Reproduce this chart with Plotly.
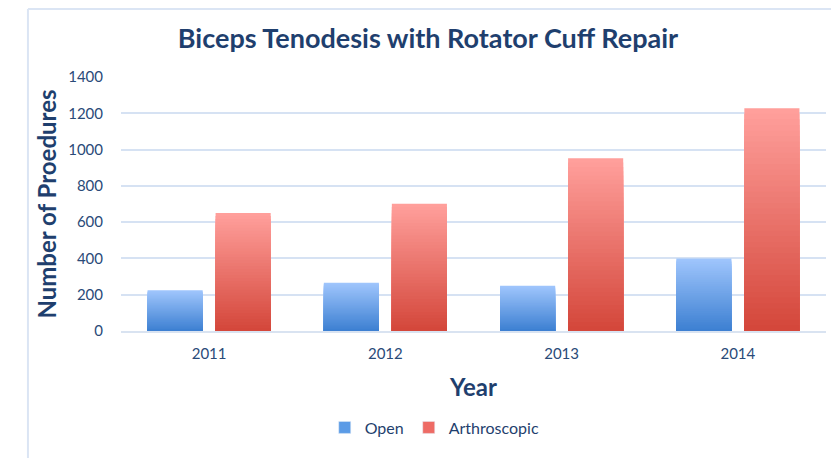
import plotly.graph_objects as go

years = ["2011", "2012", "2013", "2014"]
open_vals = [224, 266, 250, 399]
arth_vals = [650, 701, 952, 1228]
y_ticks = [0, 200, 400, 600, 800, 1000, 1200, 1400]

NAVY = "#1f3f6e"
TICK = "#2a4a78"
N = 40


def lerp(c1, c2, t):
    a = [int(c1[i:i + 2], 16) for i in (1, 3, 5)]
    b = [int(c2[i:i + 2], 16) for i in (1, 3, 5)]
    return "rgb(%d,%d,%d)" % tuple(round(a[j] + (b[j] - a[j]) * t) for j in range(3))


fig = go.Figure()

series = [
    ("Open", open_vals, "#9fc5fc", "#3d80d2", "#5b9be6", "o"),
    ("Arthroscopic", arth_vals, "#ff9f9b", "#d4473b", "#ee6b65", "a"),
]
for name, vals, top, bot, legc, grp in series:
    for k in range(N):
        frac = (N - k) / N
        fig.add_trace(go.Bar(
            x=years, y=[v * frac for v in vals], name=name,
            offsetgroup=grp, legendgroup=grp, showlegend=False,
            marker=dict(color=lerp(top, bot, k / (N - 1)), line=dict(width=0)),
            hoverinfo="skip",
        ))
    fig.add_trace(go.Bar(
        x=[None], y=[None], name=name, legendgroup=grp, offsetgroup=grp,
        marker=dict(color=legc), showlegend=True,
    ))

fig.update_layout(
    width=831, height=458,
    margin=dict(l=121, r=5, t=77, b=127),
    paper_bgcolor="white", plot_bgcolor="white",
    barmode="group", bargap=0.228, bargroupgap=0.19,
    title=dict(text="<b>Biceps Tenodesis with Rotator Cuff Repair</b>",
               x=0.515, xanchor="center", y=0.915, yanchor="middle",
               font=dict(family="Lato", size=27, color=NAVY)),
    xaxis=dict(
        tickfont=dict(family="Lato", size=15, color=TICK),
        title=dict(text="<b>Year</b>", font=dict(family="Lato", size=24, color=NAVY), standoff=18),
        showline=True, linecolor="#d9e3f1", linewidth=2, ticks="outside", ticklen=8, tickcolor="rgba(0,0,0,0)",
    ),
    yaxis=dict(
        range=[0, 1400], tickvals=y_ticks,
        tickfont=dict(family="Lato", size=15, color=TICK),
        gridcolor="#d6e2f3", gridwidth=2, zeroline=False,
        title=dict(text="<b>Number of Proedures</b>", font=dict(family="Lato", size=24, color=NAVY), standoff=4),
        ticklabelstandoff=17,
    ),
    legend=dict(orientation="h", x=0.445, xanchor="center", y=-0.38, yanchor="middle",
                font=dict(family="Lato", size=16, color=NAVY), itemwidth=30,
                traceorder="normal"),
    shapes=[
        dict(type="line", xref="paper", yref="paper", x0=-0.132, x1=1.01, y0=1.268, y1=1.268,
             line=dict(color="#dbe5f4", width=2)),
        dict(type="line", xref="paper", yref="paper", x0=-0.132, x1=-0.132, y0=1.268, y1=-0.5,
             line=dict(color="#dbe5f4", width=2)),
    ],
)

fig.write_html("out.html")
